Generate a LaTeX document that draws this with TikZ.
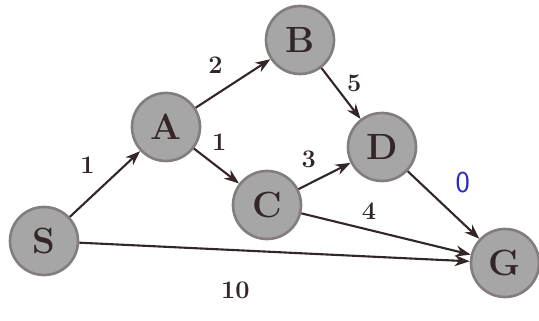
\documentclass[tikz,border=0pt]{standalone}
\usepackage{tikz}
\usetikzlibrary{arrows.meta}
\definecolor{ink}{RGB}{50,38,38}
\definecolor{pen}{RGB}{40,40,200}

\begin{document}
\begin{tikzpicture}[
    >={Stealth[length=3mm,width=2.2mm]},
    vtx/.style={draw=ink!60, line width=1.5pt, circle, fill=gray!70, minimum size=1.36cm, inner sep=0pt, font=\huge\bfseries, text=ink},
    lbl/.style={font=\Large\bfseries, text=ink},
    edge/.style={->, draw=ink, line width=1.2pt},
  ]
  \useasboundingbox (0,0) rectangle (10.78,6.42);
  \node[vtx] (S) at (0.88,1.60) {S};
  \node[vtx] (A) at (3.32,3.88) {A};
  \node[vtx] (B) at (6.00,5.62) {B};
  \node[vtx] (C) at (5.34,2.32) {C};
  \node[vtx] (D) at (7.64,3.48) {D};
  \node[vtx] (G) at (10.10,1.16) {G};
  \draw[edge] (S) -- node[lbl, above left=2pt] {1} (A);
  \draw[edge] (A) -- node[lbl, above left=2pt] {2} (B);
  \draw[edge] (B) -- node[lbl, right=4pt, pos=0.3] {5} (D);
  \draw[edge] (A) -- node[lbl, above right=0pt, pos=0.25] {1} (C);
  \draw[edge] (C) -- node[lbl, above left=1pt] {3} (D);
  \draw[edge] (D) -- node[lbl, above right=3pt, text=pen, font=\LARGE\sffamily] {0} (G);
  \draw[edge] (C) -- node[lbl, above=2pt, pos=0.4] {4} (G);
  \draw[edge] (S) -- node[lbl, below=14pt, pos=0.4] {10} (G);
\end{tikzpicture}
\end{document}
